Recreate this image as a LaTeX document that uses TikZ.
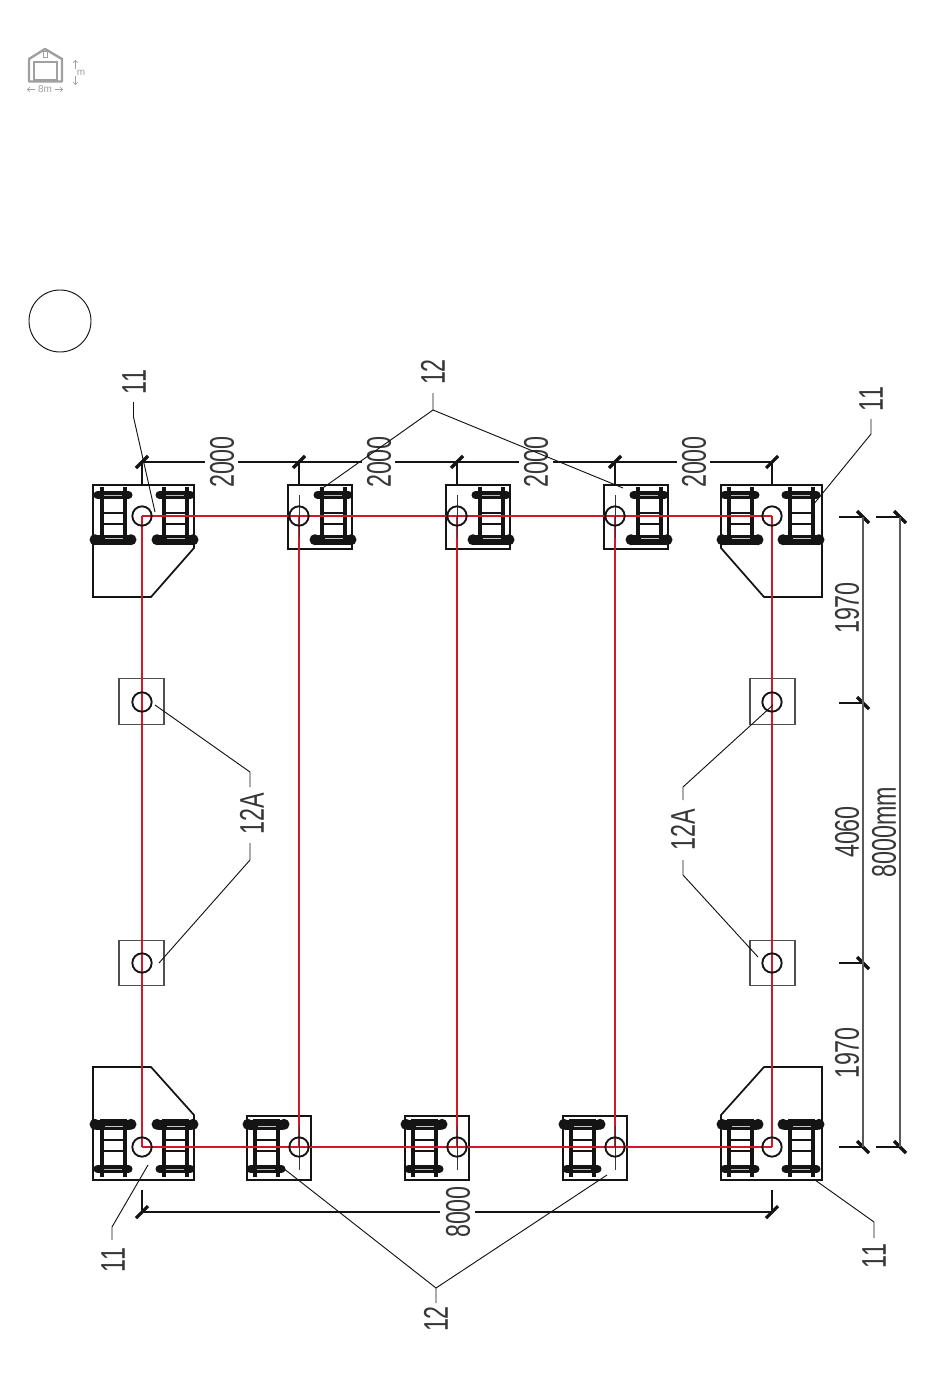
\documentclass[tikz,border=0pt]{standalone}
\usepackage{fontspec}
\usepackage{graphicx}
\setmainfont{Liberation Sans}
\newcommand{\vlab}[1]{\rotatebox{90}{\scalebox{.68}[1]{\fontsize{25.7pt}{26pt}\selectfont #1}}}
\definecolor{plan}{HTML}{141414}
\definecolor{tie}{HTML}{D01828}
\definecolor{icon}{HTML}{A0A0A0}
\tikzset{
  plate/.style={draw=plan,line width=1.3pt,line join=miter},
  smallplate/.style={draw=plan!75,line width=.8pt,rectangle,inner sep=0,minimum width=33.75pt,minimum height=34pt},
  hole/.style={draw=plan,line width=1.4pt,circle,inner sep=0,minimum size=14.5pt},
  tieline/.style={draw=tie,line width=.85pt},
  dimline/.style={draw=plan,line width=.8pt},
  heavydim/.style={draw=plan,line width=1.2pt},
  leader/.style={draw=plan,line width=.7pt},
  tickmark/.style={draw=plan,line width=2.4pt},
  crossline/.style={draw=plan!85,line width=.7pt},
  lab/.style={inner sep=0,text=plan!85}
}
\newcommand{\clampat}[3]{%
  \begin{scope}[shift={(#1,#2)},yscale=#3]
    \fill[plan] (-17,47.5) rectangle (17,57.5);
    \fill[plan] (-18,52.7) circle (5.5);
    \fill[plan] (18,52.7) circle (5.5);
    \fill[gray!45] (-8,50.5) rectangle (11,51.5);
    \fill[plan] (-15,4) rectangle (15,12);
    \fill[plan] (-15.5,8) circle (4);
    \fill[plan] (15.5,8) circle (4);
    \fill[gray!55] (-9,7.5) rectangle (9,8.5);
    \fill[plan] (-13.5,0) rectangle (-9.5,58);
    \fill[plan] (9.5,0) rectangle (13.5,58);
    \fill[plan] (-9.5,25.3) rectangle (9.5,26.7);
    \fill[plan] (-9.5,36.3) rectangle (9.5,37.7);
    \fill[plan] (-9.5,56.8) rectangle (9.5,58);
  \end{scope}}
\begin{document}
\begin{tikzpicture}[x=.75pt,y=-.75pt]
\useasboundingbox (0,0) rectangle (950,1387);
\fill[white] (0,0) rectangle (950,1387);

% icon
\draw[icon,line width=1.8pt,line join=round] (29,81.5) -- (29,59) -- (45,49) -- (62,59) -- (62,81.5) -- cycle;
\draw[icon,line width=1pt] (34,62) rectangle (57,80);
\draw[icon,line width=.7pt] (43,51) rectangle (47,57);
\node[lab,text=icon,font=\fontsize{7.5pt}{8pt}\selectfont] (iconw) at (45,89.5) {8m};
\node[lab,text=icon,font=\fontsize{7.5pt}{8pt}\selectfont] (iconh) at (81,72.5) {m};
\draw[icon,line width=.6pt,->,>=to] (35,89.5) -- (27,89.5);
\draw[icon,line width=.6pt,->,>=to] (55,89.5) -- (63,89.5);
\draw[icon,line width=.6pt,->,>=to] (75.5,69) -- (75.5,60);
\draw[icon,line width=.6pt,->,>=to] (75.5,76) -- (75.5,85);

% big empty circle
\node[draw=plan,line width=.7pt,circle,inner sep=0,minimum size=46.5pt] (blank) at (60,321) {};

% corner plates
\draw[plate] (93,485) -- (194,485) -- (194,548) -- (151,597) -- (93,597) -- cycle;
\draw[plate] (822,485) -- (721,485) -- (721,548) -- (764,597) -- (822,597) -- cycle;
\draw[plate] (93,1180) -- (194,1180) -- (194,1115) -- (151,1067) -- (93,1067) -- cycle;
\draw[plate] (822,1180) -- (721,1180) -- (721,1115) -- (764,1067) -- (822,1067) -- cycle;

% middle plates
\foreach \xa/\xb in {288/352,446/510,604/668}
  \draw[plate] (\xa,485) rectangle (\xb,549);
\foreach \xa/\xb in {247/311,405/469,563/627}
  \draw[plate] (\xa,1116) rectangle (\xb,1180);

% small square plates
\node[smallplate] (s1) at (141.5,701.5) {};
\node[smallplate] (s2) at (141.5,963) {};
\node[smallplate] (s3) at (772.5,701.5) {};
\node[smallplate] (s4) at (772.5,963) {};

% clamps
\foreach \c in {113,175,333,491,649,740,801}
  {\clampat{\c}{487}{1}}
\foreach \c in {113,175,266,424,582,740,801}
  {\clampat{\c}{1177}{-1}}

% grid coordinates
\foreach \c in {142,299,457,615,772} {
  \coordinate (t\c) at (\c,516);
  \coordinate (b\c) at (\c,1147);
}
% tie lines
\draw[tieline] (t142) -- (t772);
\draw[tieline] (b142) -- (b772);
\foreach \c in {142,299,457,615,772}
  \draw[tieline] (t\c) -- (b\c);

% crosshair lines
\foreach \c in {299,457,615} {
  \draw[crossline] (\c,495) -- (\c,538);
  \draw[crossline] (\c,1126) -- (\c,1170);
}

% holes
\foreach \c in {142,299,457,615,772} {
  \node[hole] (ht\c) at (t\c) {};
  \node[hole] (hb\c) at (b\c) {};
}
\foreach \n/\x/\y in {1/142/702,2/142/963,3/772/702,4/772/963}
  \node[hole] (hs\n) at (\x,\y) {};

% top dimension
\foreach \c in {142,299,457,615,772} {
  \coordinate (dt\c) at (\c,462);
  \draw[dimline] (dt\c) -- (\c,485);
  \draw[tickmark] (\c-6,468) -- (\c+6,456);
}
\draw[heavydim] (dt142) -- (205,462) (238,462) -- (362,462) (395,462) -- (519,462)
   (553,462) -- (677,462) (710,462) -- (dt772);
\node[lab] (d1) at (222,462) {\vlab{2000}};
\node[lab] (d2) at (379,462) {\vlab{2000}};
\node[lab] (d3) at (536,462) {\vlab{2000}};
\node[lab] (d4) at (694,462) {\vlab{2000}};

% bottom dimension
\coordinate (db142) at (142,1212);
\coordinate (db772) at (772,1212);
\draw[dimline] (142,1190) -- (db142) -- (440,1212) (475,1212) -- (db772) -- (772,1190);
\draw[tickmark] (136,1218) -- (148,1206);
\draw[tickmark] (766,1218) -- (778,1206);
\node[lab] (d5) at (458,1212) {\vlab{8000}};

% right dimensions
\foreach \y in {517,703,963,1147} {
  \coordinate (r\y) at (863,\y);
  \draw[dimline] (839,\y) -- (r\y);
  \draw[tickmark] (857,\y-6) -- (869,\y+6);
}
\draw[dimline,draw=plan!70] (r517) -- (r1147);
\foreach \y in {517,1147} {
  \coordinate (q\y) at (900,\y);
  \draw[dimline] (876,\y) -- (q\y);
  \draw[tickmark] (894,\y-6) -- (906,\y+6);
}
\draw[dimline,draw=plan!70] (q517) -- (q1147);
\node[lab] (d6) at (847,608) {\vlab{1970}};
\node[lab] (d7) at (847,832) {\vlab{4060}};
\node[lab] (d8) at (847,1053) {\vlab{1970}};
\node[lab] (d9) at (884,832) {\vlab{8000mm}};

% labels
\node[lab] (n1) at (134,382) {\vlab{11}};
\node[lab] (n2) at (871,399) {\vlab{11}};
\node[lab] (n3) at (113,1260) {\vlab{11}};
\node[lab] (n4) at (874,1256) {\vlab{11}};
\node[lab] (n5) at (433,372) {\vlab{12}};
\node[lab] (n6) at (436,1319) {\vlab{12}};
\node[lab] (n7) at (252,814) {\vlab{12A}};
\node[lab] (n8) at (683,830) {\vlab{12A}};

% leaders
\coordinate (k1) at (133.5,417); \coordinate (e1) at (155,512);
\draw[leader] (133.5,402) -- (k1) -- (e1);
\coordinate (k2) at (871,434); \coordinate (e2) at (813,505);
\draw[leader] (871,419) -- (k2) -- (e2);
\coordinate (k3) at (112,1227); \coordinate (e3) at (148,1165);
\draw[leader] (112,1240) -- (k3) -- (e3);
\coordinate (k4) at (874,1222); \coordinate (e4) at (815,1180);
\draw[leader] (874,1238) -- (k4) -- (e4);
\coordinate (k5) at (433,410);
\draw[leader] (433,393) -- (k5) -- (320,490) (k5) -- (623,488);
\coordinate (k6) at (436,1288);
\draw[leader] (436,1303) -- (k6) -- (283,1168) (k6) -- (607,1175);
\draw[leader] (250,787) -- (250,772) -- (155,705);
\draw[leader] (250,843) -- (250,860) -- (159,963);
\draw[leader] (683,800) -- (683,787) -- (773,705);
\draw[leader] (683,860) -- (683,875) -- (758,957);
\end{tikzpicture}
\end{document}
